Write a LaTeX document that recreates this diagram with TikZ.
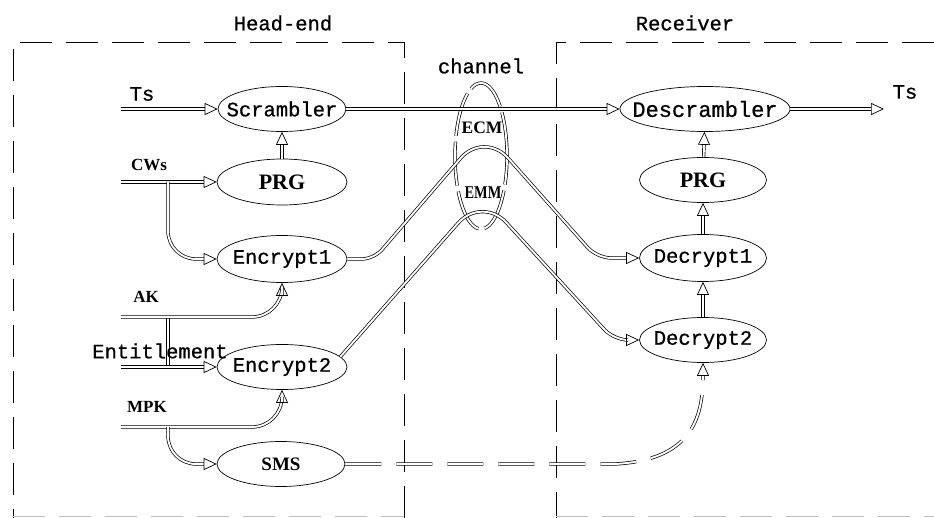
\documentclass[tikz,border=0pt]{standalone}
\usepackage{fontspec}
\setmainfont{Liberation Mono}[FakeBold=0.7]
\newfontfamily\serifn{Liberation Serif Bold}
\newfontfamily\serifc[FakeStretch=0.8]{Liberation Serif Bold}
\usetikzlibrary{arrows.meta,shapes.geometric}
\newcommand{\zb}[1]{\makebox[0pt]{#1}}
\begin{document}
\begin{tikzpicture}[x=1pt,y=-1pt,
  dl/.style={draw=black, line width=0.7pt, double=white, double distance=1.9pt},
  arr/.style={dl, -{Triangle[open, length=13pt, width=12pt]}},
  ell/.style={ellipse, draw, line width=0.7pt, inner sep=0pt, fill=white},
  mono/.style={font=\fontsize{20.5}{24}\selectfont},
  boxd/.style={draw=black, line width=0.8pt, dash pattern=on 32pt off 14pt},
  txt/.style={inner sep=0pt, font=\fontsize{20.5}{24}\selectfont}
]
\useasboundingbox (0,0) rectangle (934,518);

% dashed boxes
\draw[boxd] (404,518) -- (404,42) -- (13,42) -- (13,518);
\draw[boxd] (934,42) -- (556,42) -- (556,518);
\draw[boxd, draw=black!25] (13,516) -- (404,516);
\draw[boxd, draw=black!25] (556,516) -- (934,516);

\node[txt] (he) at (283,23) {Head-end};
\node[txt] (rc) at (685,23) {Receiver};
\node[txt] (chl) at (481,66) {channel};

% channel ellipse
\node[ellipse, dl, inner sep=0pt, minimum width=52pt, minimum height=146pt,
      dash pattern=on 44pt off 6pt] (ch) at (481,156) {};
\node[inner sep=0pt, font=\serifn\fontsize{17.5}{20}\selectfont] (ecm) at (482,128) {ECM};
\node[inner sep=0pt, font=\serifc\fontsize{18}{20}\selectfont] (emm) at (483,193) {EMM};

% ellipses
\node[ell, mono, minimum width=128pt, minimum height=45pt] (scr) at (282,109) {\zb{Scrambler}};
\node[ell, minimum width=130pt, minimum height=46pt, font=\serifn\fontsize{22}{25}\selectfont] (prgL) at (282,182) {\zb{PRG}};
\node[ell, mono, minimum width=130pt, minimum height=47pt] (enc1) at (282,259) {\zb{Encrypt1}};
\node[ell, mono, minimum width=130pt, minimum height=45pt] (enc2) at (282,367) {\zb{Encrypt2}};
\node[ell, minimum width=128pt, minimum height=45pt, font=\serifn\fontsize{19}{22}\selectfont] (sms) at (281,464) {\zb{SMS}};
\node[ell, minimum width=170pt, minimum height=45pt, font=\fontsize{22}{26}\selectfont] (des) at (705,109) {\zb{Descrambler}};
\node[ell, minimum width=127pt, minimum height=45pt, font=\serifn\fontsize{22}{25}\selectfont] (prgR) at (703,180) {\zb{PRG}};
\node[ell, mono, minimum width=127pt, minimum height=47pt] (dec1) at (703,258) {\zb{Decrypt1}};
\node[ell, mono, minimum width=127pt, minimum height=45pt] (dec2) at (703,340) {\zb{Decrypt2}};

% input labels
\node[txt] (tsl) at (142,94) {Ts};
\node[inner sep=0pt, font=\serifn\fontsize{17}{20}\selectfont] (cwsl) at (149,165) {CWs};
\node[inner sep=0pt, font=\serifn\fontsize{17}{20}\selectfont] (akl) at (146,297) {AK};
\node[inner sep=0pt, font=\serifn\fontsize{17}{20}\selectfont] (mpkl) at (147,407) {MPK};
\node[txt] (tsr) at (905,92) {Ts};

% coordinates
\coordinate (tsin) at (121,109);
\coordinate (cwsin) at (121,182);
\coordinate (akin) at (121,317);
\coordinate (entin) at (121,367);
\coordinate (mpkin) at (121,427);
\coordinate (tsout) at (884,109);
\coordinate (cwsb) at (168,182);
\coordinate (akb) at (168,317);
\coordinate (entb) at (168,367);
\coordinate (mpkb) at (168,427);

% left side connectors
\draw[dl] (akb) -- (entb);
\draw[arr] (tsin) -- (scr);
\draw[arr] (cwsin) -- (prgL);
\draw[arr, rounded corners=28pt] (cwsb) |- (enc1.west);
\draw[arr, rounded corners=30pt] (akin) -| (enc1.south);
\draw[arr] (entin) -- (enc2);
\draw[arr, rounded corners=30pt] (mpkin) -| (enc2.south);
\draw[arr, rounded corners=28pt] (mpkb) |- (sms.west);
\draw[arr] (prgL) -- (scr);

\node[txt] (entl) at (160,351) {Entitlement};

% main
\draw[arr] (scr) -- (des);
\draw[arr] (des) -- (tsout);
\draw[arr] (prgR) -- (des);
\draw[arr] (dec1) -- (prgR);
\draw[arr] (dec2) -- (dec1);

% ECM / EMM paths
\draw[arr] (enc1.east) [rounded corners=12pt] -- (374,259) [rounded corners=36pt] -- (484,131) [rounded corners=14pt] -- (597,258) -- (dec1.west);
\draw[arr] (enc2.10) [rounded corners=36pt] -- (482,196) [rounded corners=14pt] -- (614,340) -- (dec2.west);

% SMS path
\draw[arr, dash pattern=on 36pt off 15pt]
  (sms.east) -- (615,464) .. controls (690,460) and (703,420) .. (dec2.south);
\end{tikzpicture}
\end{document}
